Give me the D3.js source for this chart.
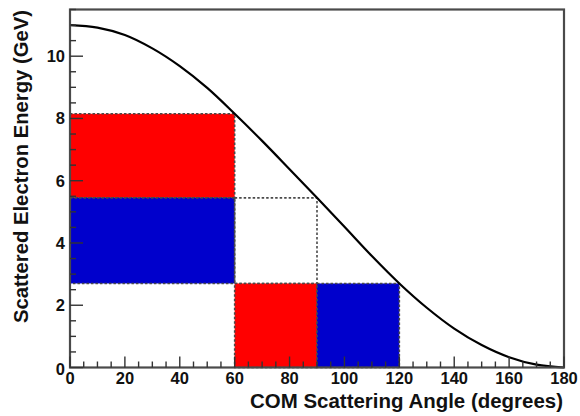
<!DOCTYPE html>
<html>
<head>
<meta charset="utf-8">
<script src="https://cdn.jsdelivr.net/npm/d3@7"></script>
<style>
  html, body { margin: 0; padding: 0; background: #fff; }
  svg { display: block; }
  text { font-family: "Liberation Sans", Arial, sans-serif; font-weight: bold; fill: #111; }
</style>
</head>
<body>
<svg id="chart" width="580" height="416"></svg>
<script>
// Scattered electron energy vs. centre-of-mass scattering angle
const angles   = [0, 10, 20, 30, 40, 50, 60, 70, 80, 90, 100, 110, 120, 130, 140, 150, 160, 170, 180];
const energies = [11.0, 10.92, 10.68, 10.25, 9.68, 8.98, 8.15, 7.28, 6.37, 5.45, 4.52, 3.58, 2.70, 1.92, 1.25, 0.72, 0.33, 0.09, 0.0];

// Angular / energy bins: [angle from, angle to, energy from, energy to]
const binAngleLo  = [0,    0,    60,   60,   90];
const binAngleHi  = [60,   60,   90,   90,   120];
const binEnergyLo = [5.45, 2.70, 2.70, 0,    0];
const binEnergyHi = [8.15, 5.45, 5.45, 2.70, 2.70];
const binFill     = ["#ff0000", "#0000cc", "none", "#ff0000", "#0000cc"];

const xTickLabels = [0, 20, 40, 60, 80, 100, 120, 140, 160, 180];
const yTickLabels = [0, 2, 4, 6, 8, 10];

const svg = d3.select("#chart");
const plotL = 70, plotR = 564, plotT = 9.5, plotB = 367.5;

const x = d3.scaleLinear().domain([0, 180]).range([plotL, plotR]);
const y = d3.scaleLinear().domain([0, 11.5]).range([plotB, plotT]);

// bins
const bins = d3.range(binFill.length).map(i => ({
  x0: binAngleLo[i], x1: binAngleHi[i], y0: binEnergyLo[i], y1: binEnergyHi[i], fill: binFill[i]
}));
svg.append("g").selectAll("rect").data(bins).join("rect")
  .attr("x", d => x(d.x0))
  .attr("y", d => y(d.y1))
  .attr("width", d => x(d.x1) - x(d.x0))
  .attr("height", d => y(d.y0) - y(d.y1))
  .attr("fill", d => d.fill)
  .attr("stroke", "#4a4a4a")
  .attr("stroke-width", 1.6)
  .attr("stroke-dasharray", "2.5,2");

// kinematic curve
const line = d3.line()
  .x((d, i) => x(angles[i]))
  .y(d => y(d))
  .curve(d3.curveCatmullRom.alpha(0.5));
svg.append("path")
  .datum(energies)
  .attr("d", line)
  .attr("fill", "none")
  .attr("stroke", "#000")
  .attr("stroke-width", 2.2);

// frame
svg.append("rect")
  .attr("x", plotL).attr("y", plotT)
  .attr("width", plotR - plotL).attr("height", plotB - plotT)
  .attr("fill", "none").attr("stroke", "#4a4a4a").attr("stroke-width", 2.2);

// x axis: ticks point inward (upwards)
const xMinor = d3.range(0, 181, 5);
svg.append("g").selectAll("line").data(xMinor).join("line")
  .attr("x1", d => x(d)).attr("x2", d => x(d))
  .attr("y1", plotB).attr("y2", d => plotB - (d % 20 === 0 ? 11 : 6))
  .attr("stroke", "#333").attr("stroke-width", 1.4);
svg.append("g").selectAll("text").data(xTickLabels).join("text")
  .attr("x", d => x(d)).attr("y", 384)
  .attr("text-anchor", "middle")
  .attr("font-size", 16.5)
  .text(d => d);

// y axis: ticks point inward (to the right)
const yMinor = d3.range(0, 11.51, 0.5);
svg.append("g").selectAll("line").data(yMinor).join("line")
  .attr("x1", plotL).attr("x2", d => plotL + (Math.round(d * 2) % 4 === 0 ? 13 : 6))
  .attr("y1", d => y(d)).attr("y2", d => y(d))
  .attr("stroke", "#333").attr("stroke-width", 1.4);
svg.append("g").selectAll("text").data(yTickLabels).join("text")
  .attr("x", 65).attr("y", d => d === 0 ? 375 : y(d) + 6)
  .attr("text-anchor", "end")
  .attr("font-size", 16.5)
  .text(d => d);

// axis titles
svg.append("text")
  .attr("x", 563).attr("y", 408)
  .attr("text-anchor", "end")
  .attr("font-size", 19.5)
  .attr("textLength", 313)
  .attr("lengthAdjust", "spacingAndGlyphs")
  .text("COM Scattering Angle (degrees)");
svg.append("text")
  .attr("transform", "translate(28,10) rotate(-90)")
  .attr("text-anchor", "end")
  .attr("font-size", 19.5)
  .attr("textLength", 313)
  .attr("lengthAdjust", "spacingAndGlyphs")
  .text("Scattered Electron Energy (GeV)");
</script>
</body>
</html>
